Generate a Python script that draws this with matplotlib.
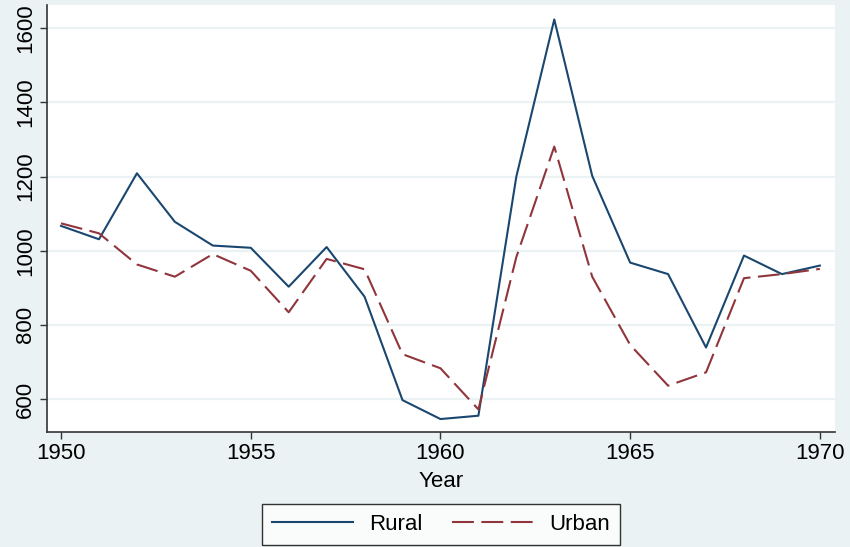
import matplotlib
matplotlib.use("Agg")
import matplotlib.pyplot as plt

plt.rcParams['font.family'] = ['Liberation Sans', 'DejaVu Sans']

# data
years = list(range(1950, 1971))
rural = [1067, 1031, 1209, 1078, 1014, 1008, 903, 1010, 876, 597, 546,
         555, 1200, 1624, 1202, 968, 937, 739, 987, 937, 960]
urban = [1074, 1047, 963, 930, 991, 946, 834, 978, 950, 721, 683,
         572, 983, 1281, 930, 746, 636, 672, 926, 937, 951]
yticks = [600, 800, 1000, 1200, 1400, 1600]
xticks = [1950, 1955, 1960, 1965, 1970]

bg = '#EAF2F3'
fig = plt.figure(figsize=(8.5, 5.47), dpi=100, facecolor=bg)
ax = fig.add_axes([0.0553, 0.2102, 0.9271, 0.7807])
ax.set_facecolor('white')

ax.plot(years, rural, color='#1A476F', lw=1.5, label='Rural')
ax.plot(years, urban, color='#90353B', lw=1.5, dashes=(10.5, 3.6), label='Urban')

ax.set_xlim(1949.63, 1970.4)
ax.set_ylim(511, 1663)
ax.set_xticks(xticks)
ax.set_yticks(yticks)
ax.set_yticklabels([str(v) for v in yticks], rotation=90, va='center')
ax.tick_params(labelsize=16, length=5, width=1, color='#333333', pad=3)
ax.grid(axis='y', color=bg, lw=1.6)
ax.set_axisbelow(True)

for s in ['top', 'right']:
    ax.spines[s].set_visible(False)
for s in ['left', 'bottom']:
    ax.spines[s].set_color('#333333')
    ax.spines[s].set_linewidth(1.2)

ax.set_xlabel('Year', fontsize=16, labelpad=5)

leg = fig.legend(loc='lower center', bbox_to_anchor=(441 / 850, 2 / 547), ncol=2,
                 fontsize=16, frameon=True, fancybox=False, handlelength=3.65,
                 columnspacing=1.35, borderpad=0.45, handletextpad=0.72,
                 borderaxespad=0)
leg.get_frame().set_edgecolor('black')
leg.get_frame().set_linewidth(1.0)

fig.savefig('out.png', dpi=100, facecolor=bg)
